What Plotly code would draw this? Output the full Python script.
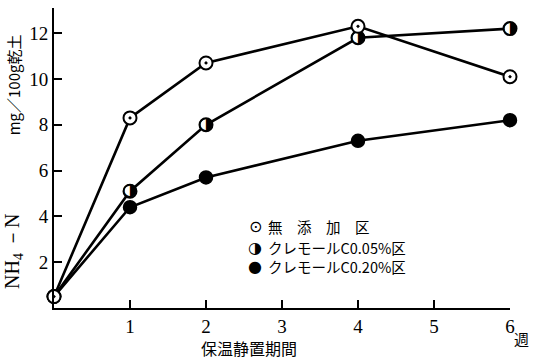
import plotly.graph_objects as go

# Incubation period (weeks)
weeks = [0, 1, 2, 4, 6]
# NH4-N (mg / 100 g dry soil)
no_additive = [0.5, 8.3, 10.7, 12.3, 10.1]
cremol_005 = [0.5, 5.1, 8.0, 11.8, 12.2]
cremol_020 = [0.5, 4.4, 5.7, 7.3, 8.2]

x_ticks = [1, 2, 3, 4, 5, 6]
y_ticks = [2, 4, 6, 8, 10, 12]

legend_labels = ["無　添　加　区", "クレモールC0.05%区", "クレモールC0.20%区"]
legend_glyphs = ["⊙", "◑", "●"]

SERIF = "Liberation Serif"
JP = "Noto Sans CJK JP"
LINE_W = 2.6
MSIZE = 13

fig = go.Figure()

# C0.20%: filled circles
fig.add_trace(go.Scatter(
    x=weeks, y=cremol_020, mode="lines+markers",
    line=dict(color="black", width=LINE_W),
    marker=dict(symbol="circle", size=MSIZE, color="black",
                line=dict(color="black", width=1.5)),
    cliponaxis=False, showlegend=False))

# C0.05%: half-filled circles (white disc + right-half-black glyph)
fig.add_trace(go.Scatter(
    x=weeks, y=cremol_005, mode="lines+markers",
    line=dict(color="black", width=LINE_W),
    marker=dict(symbol="circle", size=MSIZE, color="white",
                line=dict(color="black", width=2)),
    cliponaxis=False, showlegend=False))
fig.add_trace(go.Scatter(
    x=weeks, y=cremol_005, mode="text", text=["◑"] * len(weeks),
    textposition="middle center",
    textfont=dict(family="DejaVu Sans", size=17, color="black"),
    cliponaxis=False, showlegend=False, hoverinfo="skip"))

# No additive: open circles with centre dot
fig.add_trace(go.Scatter(
    x=weeks, y=no_additive, mode="lines+markers",
    line=dict(color="black", width=LINE_W),
    marker=dict(symbol="circle-dot", size=MSIZE, color="white",
                line=dict(color="black", width=2)),
    cliponaxis=False, showlegend=False))

# Legend drawn as text rows
legend_y = [0.273, 0.203, 0.137]
for g, lab, yy in zip(legend_glyphs, legend_labels, legend_y):
    fig.add_annotation(x=0.441, y=yy, xref="paper", yref="paper",
                       text=g, showarrow=False, xanchor="center", yanchor="middle",
                       font=dict(family="DejaVu Sans", size=16, color="black"))
    fig.add_annotation(x=0.466, y=yy, xref="paper", yref="paper",
                       text=lab, showarrow=False, xanchor="left", yanchor="middle",
                       font=dict(family=JP, size=14.5, color="black"))

# Y-axis title in two parts
fig.add_annotation(x=-0.09, y=0.19, xref="paper", yref="paper",
                   text="NH<sub>4</sub> －N", textangle=-90, showarrow=False,
                   xanchor="center", yanchor="middle",
                   font=dict(family=SERIF, size=20, color="black"))
fig.add_annotation(x=-0.088, y=0.745, xref="paper", yref="paper",
                   text="mg／100g乾土", textangle=-90, showarrow=False,
                   xanchor="center", yanchor="middle",
                   font=dict(family=JP, size=15, color="black"))

# X-axis title and unit after the last tick
fig.add_annotation(x=0.428, y=-0.133, xref="paper", yref="paper",
                   text="保温静置期間", showarrow=False, xanchor="center", yanchor="middle",
                   font=dict(family=JP, size=16, color="black"))
fig.add_annotation(x=1.005, y=-0.1, xref="paper", yref="paper",
                   text="週", showarrow=False, xanchor="left", yanchor="middle",
                   font=dict(family=JP, size=15, color="black"))

fig.update_layout(
    width=534, height=360,
    margin=dict(l=54, r=24, t=8, b=52),
    paper_bgcolor="white", plot_bgcolor="white",
    font=dict(family=SERIF, color="black"),
    xaxis=dict(range=[0, 6], tickvals=x_ticks, ticktext=[str(v) for v in x_ticks],
               ticks="inside", ticklen=8, tickwidth=1.5, tickcolor="black",
               showline=True, linecolor="black", linewidth=2, showgrid=False,
               zeroline=False, tickfont=dict(family=SERIF, size=19)),
    yaxis=dict(range=[0, 13.1], tickvals=y_ticks, ticktext=[str(v) for v in y_ticks],
               ticks="inside", ticklen=8, tickwidth=1.5, tickcolor="black",
               showline=True, linecolor="black", linewidth=2, showgrid=False,
               zeroline=False, tickfont=dict(family=SERIF, size=19)),
)

fig.write_html("out.html")
